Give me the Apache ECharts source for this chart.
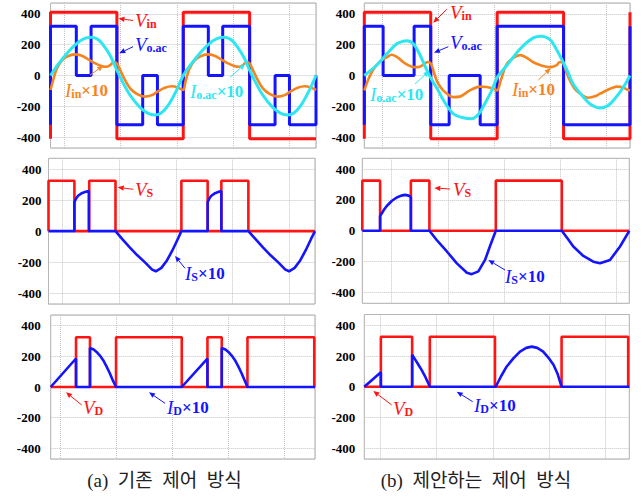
<!DOCTYPE html>
<html><head><meta charset="utf-8">
<script src="https://cdn.jsdelivr.net/npm/echarts@6/dist/echarts.min.js"></script>
<style>html,body{margin:0;padding:0;background:#fff}#c{width:642px;height:497px}</style>
</head><body><div id="c"></div>
<script>
// ---------------- DATA (x = phase in degrees over two periods, y = value) ----------------
const yTickLabels = [-400, -200, 0, 200, 400];
const captions = ['(a)\u2002기존\u2002제어\u2002방식', '(b)\u2002제안하는\u2002제어\u2002방식'];

// (a) conventional control — top panel
const vinA = [[0,-410],[0,410],[180,410],[180,-410],[360,-410],[360,410],[540,410],[540,-410],[720,-410]];
const voacA = [[0,-320],[0,320],[70,320],[70,0],[110,0],[110,320],[180,320],[180,-320],[250,-320],[250,0],[290,0],[290,-320],[360,-320],[360,320],[428,320],[428,0],[467,0],[467,320],[540,320],[540,-320],[609,-320],[609,0],[648,0],[648,-320],[720,-320],[720,0]];
const iinA = [[0,-94],[6,-40],[12,10],[17,45],[30,95],[45,122],[66,137],[85,128],[100,108],[120,80],[140,60],[150,57],[162,68],[172,88],[180,78],[190,30],[200,-20],[216,-83],[235,-120],[256,-137],[275,-127],[290,-105],[310,-80],[330,-70],[345,-78],[360,-94],[366,-40],[372,10],[377,45],[390,95],[405,122],[426,137],[445,128],[460,108],[480,80],[500,60],[510,57],[522,68],[532,88],[540,78],[550,30],[560,-20],[576,-83],[595,-120],[616,-137],[635,-127],[650,-105],[670,-80],[690,-70],[705,-78],[720,-94]];
const ioacA = [[0,0],[20,70],[45,145],[70,205],[90,238],[110,248],[130,232],[150,175],[165,115],[180,35],[195,-40],[215,-125],[240,-200],[262,-242],[283,-256],[300,-243],[320,-190],[340,-105],[360,0],[380,70],[405,145],[430,205],[450,238],[470,248],[490,232],[510,175],[525,115],[540,35],[555,-40],[575,-125],[600,-200],[622,-242],[643,-256],[660,-243],[680,-190],[700,-105],[720,0]];

// (b) proposed control — top panel
const vinB = [[0,-410],[0,410],[180,410],[180,-410],[360,-410],[360,410],[540,410],[540,-410],[720,-410],[720,410]];
const voacB = [[0,-320],[0,320],[51,320],[51,0],[135,0],[135,320],[180,320],[180,-320],[230,-320],[230,0],[314,0],[314,-320],[360,-320],[360,320],[540,320],[540,-320],[720,-320],[720,320]];
const iinB = [[0,-97],[10,-30],[20,20],[29,54],[45,95],[61,118],[74,135],[90,118],[106,86],[120,66],[133,54],[151,57],[165,80],[172,88],[180,78],[190,10],[196,-32],[205,-70],[214,-97],[241,-140],[259,-137],[286,-97],[313,-72],[332,-75],[345,-82],[354,-90],[360,-97],[370,-30],[386,75],[405,115],[422,132],[440,115],[458,86],[480,65],[503,54],[520,65],[530,88],[539,80],[548,20],[557,-32],[570,-85],[585,-118],[607,-144],[625,-135],[639,-118],[666,-86],[684,-72],[700,-76],[711,-90],[720,-97]];
const ioacB = [[0,0],[34,68],[61,141],[88,206],[105,222],[115,226],[133,206],[151,133],[169,36],[183,-29],[200,-95],[214,-159],[241,-248],[265,-272],[291,-281],[310,-250],[322,-203],[341,-118],[359,-19],[365,5],[386,65],[422,172],[458,244],[481,255],[500,238],[512,206],[539,86],[553,15],[566,-55],[594,-141],[615,-190],[639,-211],[660,-195],[675,-162],[702,-76],[720,0]];

// middle panels: switch voltage / current
const vsA = [[0,0],[0,325],[70,325],[70,0],[110,0],[110,325],[181,325],[181,0],[359,0],[359,325],[430,325],[430,0],[467,0],[467,325],[540,325],[540,0],[720,0]];
const isA = [[0,0],[70,0],[70,187],[75,212],[80,228],[90,245],[100,254],[109,259],[109,0],[181,0],[200,-53],[220,-106],[240,-156],[260,-200],[280,-248],[290,-259],[305,-237],[320,-189],[335,-123],[350,-47],[359,0],[430,0],[430,187],[435,212],[440,228],[450,245],[460,254],[467,259],[467,0],[540,0],[560,-53],[580,-106],[600,-156],[620,-200],[640,-248],[650,-259],[665,-237],[680,-189],[695,-123],[710,-47],[720,0]];
const vsB = [[0,0],[0,325],[48,325],[48,0],[131,0],[131,325],[181,325],[181,0],[360,0],[360,325],[538,325],[538,0],[720,0]];
const isB = [[0,0],[48,0],[48,95],[58,135],[66,161],[80,195],[93,216],[105,228],[115,233],[125,228],[131,218],[131,0],[181,0],[200,-58],[228,-134],[255,-211],[282,-272],[295,-281],[313,-263],[331,-189],[344,-102],[360,0],[538,0],[555,-55],[569,-102],[596,-163],[623,-200],[641,-211],[668,-189],[695,-102],[720,0]];

// bottom panels: diode voltage / current
const vdA = [[0,0],[69,0],[69,325],[107,325],[107,0],[178,0],[178,325],[357,325],[357,0],[427,0],[427,325],[466,325],[466,0],[536,0],[536,325],[718,325],[718,0],[720,0]];
const idA = [[0,0],[69,186],[69,0],[107,0],[107,255],[117,245],[125,229],[134,205],[143,175],[152,135],[161,90],[168,50],[178,0],[357,0],[427,186],[427,0],[466,0],[466,255],[476,245],[484,229],[493,205],[502,175],[511,135],[520,90],[527,50],[536,0],[720,0]];
const vdB = [[0,0],[45,0],[45,325],[130,325],[130,0],[178,0],[178,325],[355,325],[355,0],[536,0],[536,325],[717,325],[717,0],[720,0]];
const idB = [[0,0],[45,94],[45,0],[130,0],[130,208],[138,178],[147,143],[156,108],[165,68],[172,32],[178,0],[357,0],[372,70],[387,132],[405,185],[423,229],[440,253],[455,261],[470,253],[486,229],[500,190],[514,143],[525,85],[536,0],[720,0]];

// ---------------- LAYOUT / STYLE ----------------
const RED = '#ff1414', BLUE = '#1414ff', ORANGE = '#f5841f', CYAN = '#2ee6f0';
const panels = [
  {l:50.5, t:3,   w:265.5, h:145,   off:13.8, sp:56.25, m:10},
  {l:364.3,t:3,   w:265.7, h:145,   off:18.4, sp:56,    m:9},
  {l:48.5, t:158.3,w:266.5,h:145.7, off:13.8, sp:56.75, m:7},
  {l:362.3,t:158.3,w:267,  h:145,   off:29.4, sp:56.25, m:7},
  {l:50.7, t:315, w:264.3, h:144,   off:9.3,  sp:56.1,  m:10},
  {l:364.3,t:314.5,w:265,  h:144.5, off:15.7, sp:56.4,  m:9}
];
const grid = [], xAxis = [], yAxis = [];
panels.forEach((p, i) => {
  grid.push({left:p.l, top:p.t, width:p.w, height:p.h, show:true, borderColor:'#a8a8a8', borderWidth:1, backgroundColor:'#fff'});
  xAxis.push({gridIndex:i, type:'value', min:0, max:720, show:false});
  xAxis.push({gridIndex:i, type:'value', min:-p.off/p.sp, max:(p.w-p.off)/p.sp,
    axisLine:{show:false}, axisTick:{show:false}, axisLabel:{show:false},
    splitLine:{show:true, lineStyle:{type:'dotted', color:'#c4c4c4', width:1}}});
  yAxis.push({gridIndex:i, type:'value', min:-470, max:470,
    axisLine:{show:false}, axisTick:{show:false},
    axisLabel:{margin:p.m, color:'#000', fontFamily:'Liberation Serif', fontWeight:'bold', fontSize:13,
      formatter: v => yTickLabels.includes(v) ? String(v) : ''},
    splitLine:{show:true, lineStyle:{type:'dotted', color:'#c4c4c4', width:1}}});
});
function ln(i, data, color, width, smooth, z) {
  return {type:'line', xAxisIndex:2*i, yAxisIndex:i, data, symbol:'none', showSymbol:false,
    smooth: smooth || false, lineStyle:{color, width}, itemStyle:{color}, z, animation:false, silent:true};
}
const series = [
  ln(0, vinA, RED, 3, false, 2), ln(0, voacA, BLUE, 3, false, 3), ln(0, iinA, ORANGE, 2.6, 0.3, 4), ln(0, ioacA, CYAN, 3, 0.3, 5),
  ln(1, vinB, RED, 3, false, 2), ln(1, voacB, BLUE, 3, false, 3), ln(1, iinB, ORANGE, 2.6, 0.3, 4), ln(1, ioacB, CYAN, 3, 0.3, 5),
  ln(2, vsA, RED, 2.6, false, 2), ln(2, isA, BLUE, 2.6, false, 3),
  ln(3, vsB, RED, 2.6, false, 2), ln(3, isB, BLUE, 2.6, false, 3),
  ln(4, vdA, RED, 2.6, false, 2), ln(4, idA, BLUE, 2.6, false, 3),
  ln(5, vdB, RED, 2.6, false, 2), ln(5, idB, BLUE, 2.6, false, 3)
];

// ---------------- ANNOTATIONS ----------------
function richFor(color) {
  const f = 'Liberation Serif';
  return {
    v: {fontFamily:f, fontStyle:'italic', fontSize:19, lineHeight:20, fill:color, color},
    s: {fontFamily:f, fontWeight:'bold', fontSize:12, lineHeight:12, verticalAlign:'bottom', fill:color, color},
    m: {fontFamily:f, fontWeight:'bold', fontSize:17, lineHeight:20, fill:color, color}
  };
}
function label(x, y, text, color) {
  return {type:'text', x, y, silent:true, z:20, style:{text, rich:richFor(color), fill:color, verticalAlign:'top', align:'left'}};
}
function arrow(x1, y1, x2, y2, color) {
  const dx = x2-x1, dy = y2-y1, L = Math.hypot(dx, dy), ux = dx/L, uy = dy/L, hl = 6, hw = 2.6;
  const bx = x2-ux*hl, by = y2-uy*hl;
  return [
    {type:'line', silent:true, z:20, shape:{x1, y1, x2:bx, y2:by}, style:{stroke:color, lineWidth:1}},
    {type:'polygon', silent:true, z:20, shape:{points:[[x2,y2],[bx-uy*hw,by+ux*hw],[bx+uy*hw,by-ux*hw]]}, style:{fill:color}}
  ];
}
const graphic = [
  label(135, 10, '{v|V}{s|in}', RED), ...arrow(133, 20.5, 118.5, 18.5, RED),
  label(135, 34, '{v|V}{s|o.ac}', BLUE), ...arrow(133, 46.7, 119.3, 53.3, BLUE),
  label(65, 80, '{v|I}{s|in}{m|×10}', ORANGE), ...arrow(90, 75, 103.3, 65.7, ORANGE),
  label(190, 81, '{v|I}{s|o.ac}{m|×10}', CYAN), ...arrow(230, 77.3, 245, 64, CYAN),

  label(450, 2, '{v|V}{s|in}', RED), ...arrow(446.7, 9.3, 433.3, 22.7, RED),
  label(450, 32, '{v|V}{s|o.ac}', BLUE), ...arrow(448.3, 46.7, 434, 52.7, BLUE),
  label(370, 84, '{v|I}{s|o.ac}{m|×10}', CYAN), ...arrow(415, 84, 429.3, 71, CYAN),
  label(512, 79, '{v|I}{s|in}{m|×10}', ORANGE), ...arrow(538.3, 80, 550.7, 68.3, ORANGE),

  label(135, 179, '{v|V}{s|S}', RED), ...arrow(133.3, 189.3, 117.7, 187.3, RED),
  label(185, 263, '{v|I}{s|S}{m|×10}', BLUE), ...arrow(185, 268.3, 175, 256, BLUE),
  label(453, 179, '{v|V}{s|S}', RED), ...arrow(450, 189, 434.3, 188, RED),
  label(505, 266, '{v|I}{s|S}{m|×10}', BLUE), ...arrow(505, 270, 488.3, 260, BLUE),

  label(83, 397, '{v|V}{s|D}', RED), ...arrow(81.7, 405, 66, 392.3, RED),
  label(167, 397, '{v|I}{s|D}{m|×10}', BLUE), ...arrow(165, 403.3, 149, 392.3, BLUE),
  label(393, 398, '{v|V}{s|D}', RED), ...arrow(391.7, 405, 373.3, 391, RED),
  label(474, 395, '{v|I}{s|D}{m|×10}', BLUE), ...arrow(472.7, 401.7, 456.7, 391.7, BLUE),

  {type:'text', x:164.5, y:480, silent:true, style:{text:captions[0], fill:'#222', align:'center', verticalAlign:'middle',
    font:"19px 'Liberation Serif', 'Noto Sans CJK KR'"}},
  {type:'text', x:476, y:480, silent:true, style:{text:captions[1], fill:'#222', align:'center', verticalAlign:'middle',
    font:"19px 'Liberation Serif', 'Noto Sans CJK KR'"}}
];

const chart = echarts.init(document.getElementById('c'), null, {renderer:'svg', width:642, height:497});
chart.setOption({animation:false, backgroundColor:'#fff', grid, xAxis, yAxis, series, graphic});
</script>
</body></html>
